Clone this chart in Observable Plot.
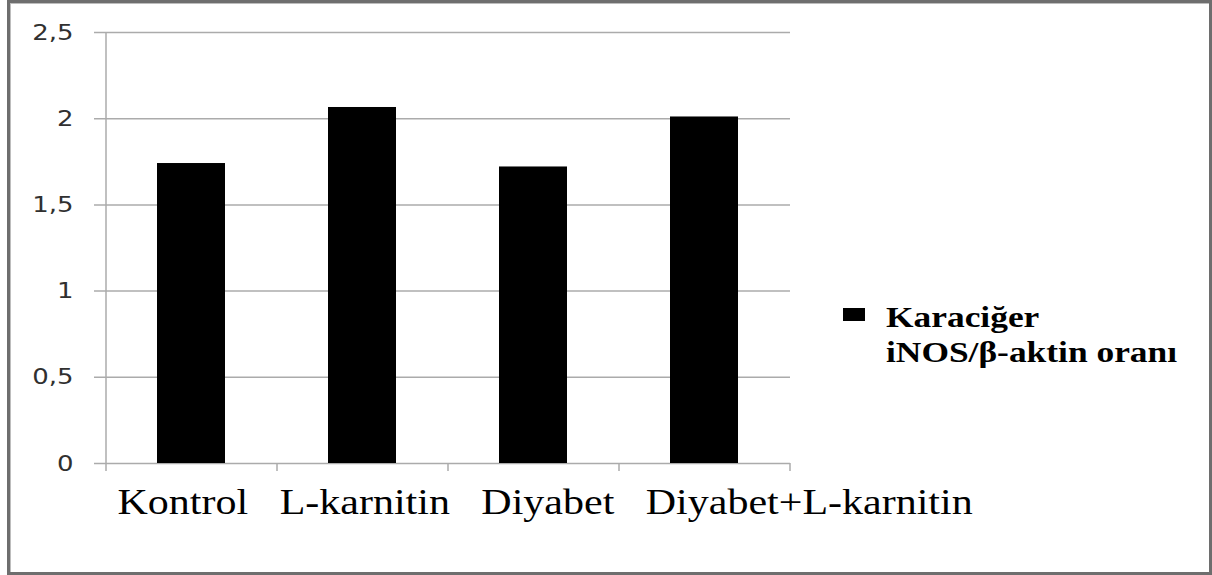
<!DOCTYPE html>
<html>
<head>
<meta charset="utf-8">
<script src="https://cdn.jsdelivr.net/npm/d3@7"></script>
<script src="https://cdn.jsdelivr.net/npm/@observablehq/plot@0.6"></script>
<style>
  body { margin: 0; background: #fff; }
  #wrap { position: relative; width: 1212px; height: 575px; overflow: hidden; background: #fff; }
  #wrap svg { position: absolute; left: 0; top: 0; }
  #frame {
    position: absolute; left: 7px; top: 0; width: 1205px; height: 575px;
    box-sizing: border-box; border: 3px solid #6e6e6e;
    box-shadow: inset 1px 1px 0 #bdbdbd; pointer-events: none;
  }
  #legend-swatch { position: absolute; left: 843px; top: 308px; width: 22px; height: 13px; background: #000; }
  #legend-text {
    position: absolute; left: 886px; top: 299px;
    font-family: "Liberation Serif", "Times New Roman", serif; font-weight: bold;
    font-size: 30px; line-height: 35px; color: #000; white-space: nowrap;
    transform: scaleX(1.18); transform-origin: 0 0;
  }
</style>
</head>
<body>
<div id="wrap">
  <div id="chart"></div>
  <div id="legend-swatch"></div>
  <div id="legend-text"></div>
  <div id="frame"></div>
</div>
<script>
// Liver iNOS / beta-actin ratio per group
const categories = ["Kontrol", "L-karnitin", "Diyabet", "Diyabet+L-karnitin"];
const values = [1.74, 2.065, 1.72, 2.01];
const yTicks = [0, 0.5, 1, 1.5, 2, 2.5];
const seriesLabel = ["Karaciğer", "iNOS/β-aktin oranı"];

const W = 1212, H = 575;
const mLeft = 106, mRight = 422, mTop = 32, mBottom = 112;
const step = (W - mLeft - mRight) / categories.length;
const lineColor = "#ababab";
const stretch = 1.18; // glyphs are drawn slightly wide
const gap = "\u00A0\u00A0\u00A0";

const data = categories.map((c, i) => ({category: c, value: values[i]}));

const chart = Plot.plot({
  width: W,
  height: H,
  marginLeft: mLeft,
  marginRight: mRight,
  marginTop: mTop,
  marginBottom: mBottom,
  style: {
    background: "transparent",
    fontFamily: "'DejaVu Sans', sans-serif",
    fontSize: "22px",
    color: "#303030",
    overflow: "visible"
  },
  x: {domain: categories, paddingInner: 0.6, paddingOuter: 0.3, axis: null},
  y: {
    domain: [0, 2.5],
    ticks: yTicks,
    tickFormat: d => String(d).replace(".", ","),
    tickSize: 0,
    tickPadding: 33,
    label: null
  },
  marks: [
    // horizontal gridlines, extended left as tick marks
    Plot.ruleY(yTicks, {stroke: lineColor, strokeWidth: 1.5, insetLeft: -12}),
    // value axis line
    Plot.ruleX(categories.slice(0, 1), {x: d => d, dx: -step / 2, y1: 2.5, y2: 0, insetBottom: -8, stroke: lineColor, strokeWidth: 1.5}),
    // category boundary ticks
    Plot.ruleX(categories.slice(1), {x: d => d, dx: -step / 2, y1: 0, y2: 0, insetBottom: -8, stroke: lineColor, strokeWidth: 1.5}),
    Plot.ruleX(categories.slice(-1), {x: d => d, dx: step / 2, y1: 0, y2: 0, insetBottom: -8, stroke: lineColor, strokeWidth: 1.5}),
    Plot.barY(data, {x: "category", y: "value", fill: "#000"}),
    // category names, set as one line under the axis
    Plot.text([categories.join(gap)], {
      text: d => d,
      frameAnchor: "bottom-left",
      textAnchor: "start",
      lineAnchor: "top",
      dx: 11,
      dy: 25,
      fontFamily: "'Liberation Serif', 'Times New Roman', serif",
      fontSize: 35.6,
      fill: "#000"
    })
  ]
});

// widen every label horizontally about its own anchor point
chart.querySelectorAll("text").forEach(t => {
  const x = +t.getAttribute("x") || 0;
  const tr = t.getAttribute("transform") || "";
  t.setAttribute("transform", `${tr} translate(${x},0) scale(${stretch},1) translate(${-x},0)`.trim());
});

document.getElementById("chart").appendChild(chart);
document.getElementById("legend-text").innerHTML = seriesLabel.join("<br>");
</script>
</body>
</html>
